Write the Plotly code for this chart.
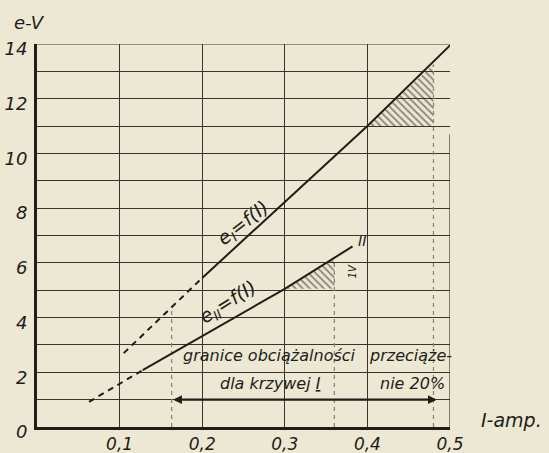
import plotly.graph_objects as go

# ---- data ----
x_tick_vals = [0.1, 0.2, 0.3, 0.4, 0.5]
x_tick_text = ["0,1", "0,2", "0,3", "0,4", "0,5"]
y_tick_vals = [0, 2, 4, 6, 8, 10, 12, 14]
y_tick_text = ["0", "2", "4", "6", "8", "10", "12", "14"]

# curve I  (e_I = f(I))
curve1_dash_I = [0.105, 0.2]
curve1_dash_e = [2.7, 5.45]
curve1_I = [0.2, 0.4, 0.5]
curve1_e = [5.45, 11.0, 13.95]

# curve II (e_II = f(I))
curve2_dash_I = [0.063, 0.128]
curve2_dash_e = [0.92, 2.08]
curve2_I = [0.128, 0.3, 0.382]
curve2_e = [2.08, 5.05, 6.6]

# load-limit verticals (dashed) and their tops on the curves
limit_I = [0.163, 0.36, 0.48]
limit_e = [4.25, 6.17, 13.25]

# hatched overload triangles
hatch1_I = [0.4, 0.48, 0.48, 0.4]
hatch1_e = [11.0, 11.0, 13.25, 11.0]
hatch2_I = [0.3, 0.36, 0.36, 0.3]
hatch2_e = [5.05, 5.05, 6.17, 5.05]

# range arrow (load limits for curve I)
range_I = [0.163, 0.484]
range_e = 1.0

INK = "#221d18"
GRID = "#3a342c"
PAPER = "#ece8d4"
FONT = "DejaVu Sans"

fig = go.Figure()

# hatched triangles
for hx, hy in [(hatch1_I, hatch1_e), (hatch2_I, hatch2_e)]:
    fig.add_trace(go.Scatter(
        x=hx, y=hy, mode="lines", fill="toself", line=dict(width=0),
        fillcolor="rgba(0,0,0,0)",
        fillpattern=dict(shape="\\", fgcolor="#2a251f", bgcolor="rgba(0,0,0,0)",
                         size=5, solidity=0.35),
        hoverinfo="skip", showlegend=False))

# dashed load-limit verticals
for xi, ei in zip(limit_I, limit_e):
    fig.add_trace(go.Scatter(
        x=[xi, xi], y=[0, ei], mode="lines",
        line=dict(color="#8d877a", width=1.3, dash="4px,4px"),
        hoverinfo="skip", showlegend=False))

# curves
fig.add_trace(go.Scatter(x=curve1_dash_I, y=curve1_dash_e, mode="lines",
                         line=dict(color=INK, width=2, dash="6px,5px"),
                         showlegend=False, hoverinfo="skip"))
fig.add_trace(go.Scatter(x=curve1_I, y=curve1_e, mode="lines",
                         line=dict(color=INK, width=2), showlegend=False))
fig.add_trace(go.Scatter(x=curve2_dash_I, y=curve2_dash_e, mode="lines",
                         line=dict(color=INK, width=2, dash="6px,5px"),
                         showlegend=False, hoverinfo="skip"))
fig.add_trace(go.Scatter(x=curve2_I, y=curve2_e, mode="lines",
                         line=dict(color=INK, width=2), showlegend=False))

# top border and partial right border
fig.add_shape(type="line", xref="x", yref="y", x0=0, x1=0.5, y0=14, y1=14,
              line=dict(color=GRID, width=1.2))
fig.add_shape(type="line", xref="x", yref="y", x0=0.5, x1=0.5, y0=0, y1=10.7,
              line=dict(color=GRID, width=1.2))

# range arrow at e=1
fig.add_annotation(x=range_I[1], y=range_e, ax=range_I[0], ay=range_e,
                   xref="x", yref="y", axref="x", ayref="y", text="",
                   showarrow=True, arrowhead=2, arrowside="end+start",
                   arrowwidth=2.2, arrowsize=0.8, arrowcolor=INK)

# dimension 2,25V
fig.add_annotation(x=0.503, y=11.02, ax=0.503, ay=11.4, xref="x", yref="y",
                   axref="x", ayref="y", text="", showarrow=True, arrowhead=2,
                   arrowwidth=1.2, arrowsize=1, arrowcolor=INK)
fig.add_annotation(x=0.503, y=13.25, ax=0.503, ay=12.95, xref="x", yref="y",
                   axref="x", ayref="y", text="", showarrow=True, arrowhead=2,
                   arrowwidth=1.2, arrowsize=1, arrowcolor=INK)

tf = dict(family=FONT, color=INK, style="italic")


def note(x, y, text, size=14, angle=0, xref="x", yref="y"):
    fig.add_annotation(x=x, y=y, xref=xref, yref=yref, text=text,
                       showarrow=False, textangle=angle,
                       xanchor="center", yanchor="middle",
                       font=dict(size=size, **tf))


note(0.505, 12.15, "2,25V", size=12, angle=-90)
note(0.382, 5.67, "1V", size=10, angle=-90)
note(0.511, 14.25, "I", size=16)
note(0.393, 6.8, "II", size=14)
note(0.25, 7.45, "e<sub>I</sub>=f(I)", size=19, angle=-38)
note(0.232, 4.55, "e<sub>II</sub>=f(I)", size=19, angle=-32)
note(0.282, 2.62, "granice obciążalności", size=16)
note(0.452, 2.62, "przeciąże-", size=16)
note(0.283, 1.6, "dla krzywej <u>I</u>", size=16)
note(0.455, 1.6, "nie 20%", size=16)
note(-0.017, 1.057, "e-V", size=18, xref="paper", yref="paper")
note(1.15, 0.018, "I-amp.", size=19, xref="paper", yref="paper")

fig.update_layout(
    width=549, height=453,
    margin=dict(l=37, r=99, t=44, b=26),
    paper_bgcolor=PAPER, plot_bgcolor=PAPER,
    showlegend=False,
    xaxis=dict(range=[0, 0.5], tickvals=x_tick_vals, ticktext=x_tick_text,
               showgrid=True, gridcolor=GRID, gridwidth=1, automargin=False,
               showline=True, linecolor=INK, linewidth=3, zeroline=False,
               ticks="", tickfont=dict(size=17, **tf), fixedrange=True),
    yaxis=dict(range=[0, 14], tickvals=y_tick_vals, ticktext=y_tick_text,
               showgrid=True, gridcolor=GRID, gridwidth=1, automargin=False,
               minor=dict(dtick=1, showgrid=True, gridcolor=GRID, gridwidth=1),
               showline=True, linecolor=INK, linewidth=3, zeroline=False,
               ticks="", ticklabelstandoff=3, ticklabelshift=5,
               tickfont=dict(size=18, **tf), fixedrange=True),
)

fig.write_html(
    "out.html",
    config={"displayModeBar": False},
    post_script="document.body.style.margin='0';"
                "document.body.style.background='#ece8d4';",
)
